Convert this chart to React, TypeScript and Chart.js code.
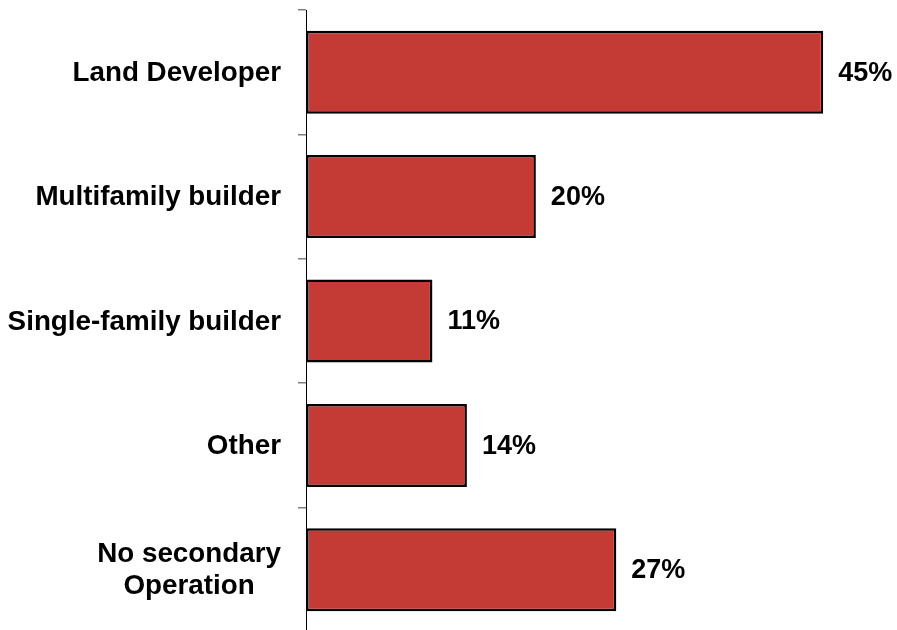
import React, { useEffect, useRef } from "react";
import { Chart, registerables } from "chart.js";

Chart.register(...registerables);

const categories: string[][] = [
  ["Land Developer"],
  ["Multifamily builder"],
  ["Single-family builder"],
  ["Other"],
  ["No secondary", "Operation"],
];
const values: number[] = [45, 20, 11, 14, 27];
const valueLabels: string[] = values.map((v) => `${v}%`);

const CAT_FONT = "bold 27.8px 'Liberation Sans', Arial, sans-serif";
const VAL_FONT = "bold 27px 'Liberation Sans', Arial, sans-serif";

const labelPlugin = {
  id: "customLabels",
  afterDraw(chart: any) {
    const ctx = chart.ctx;
    const yScale = chart.scales.y;
    const meta = chart.getDatasetMeta(0);
    ctx.save();
    ctx.fillStyle = "#000";
    ctx.textBaseline = "middle";
    ctx.font = CAT_FONT;
    const lineH = 32;
    categories.forEach((lines, i) => {
      const cy = yScale.getPixelForValue(i);
      const maxW = Math.max(...lines.map((l) => ctx.measureText(l).width));
      const cx = chart.chartArea.left - 25 - maxW / 2;
      ctx.textAlign = "center";
      lines.forEach((l, j) => {
        const y = cy + (j - (lines.length - 1) / 2) * lineH + 1;
        ctx.fillText(l, cx, y);
      });
    });
    ctx.font = VAL_FONT;
    ctx.textAlign = "left";
    meta.data.forEach((bar: any, i: number) => {
      ctx.fillText(valueLabels[i], bar.x + 15, bar.y + 1);
    });
    ctx.restore();
  },
};

export default function App() {
  const ref = useRef<HTMLCanvasElement | null>(null);
  useEffect(() => {
    if (!ref.current) return;
    const chart = new Chart(ref.current, {
      type: "bar",
      data: {
        labels: categories.map((c) => c.join(" ")),
        datasets: [
          {
            data: values,
            backgroundColor: "#C33B34",
            borderColor: "#000000",
            borderWidth: 2.5,
            borderSkipped: false,
            categoryPercentage: 1,
            barPercentage: 0.667,
          },
        ],
      },
      options: {
        indexAxis: "y",
        animation: false,
        responsive: false,
        maintainAspectRatio: false,
        layout: { padding: { top: 10, bottom: 8, left: 0, right: 17.5 } },
        plugins: {
          legend: { display: false },
          tooltip: { enabled: false },
        },
        scales: {
          x: { display: false, min: 0, max: 49.9 },
          y: {
            afterFit: (s: any) => {
              s.width = 306;
            },
            ticks: { display: false },
            grid: {
              display: true,
              drawOnChartArea: false,
              drawTicks: true,
              tickLength: 8,
              color: "#808080",
              lineWidth: 1.5,
              offset: true,
            },
            border: { display: true, color: "#000000", width: 1 },
          },
        },
      },
      plugins: [labelPlugin],
    });
    return () => chart.destroy();
  }, []);
  return (
    <div style={{ position: "absolute", left: 0, top: 0, width: 897, height: 640 }}>
      <canvas ref={ref} width={897} height={640} style={{ width: 897, height: 640 }} />
    </div>
  );
}
